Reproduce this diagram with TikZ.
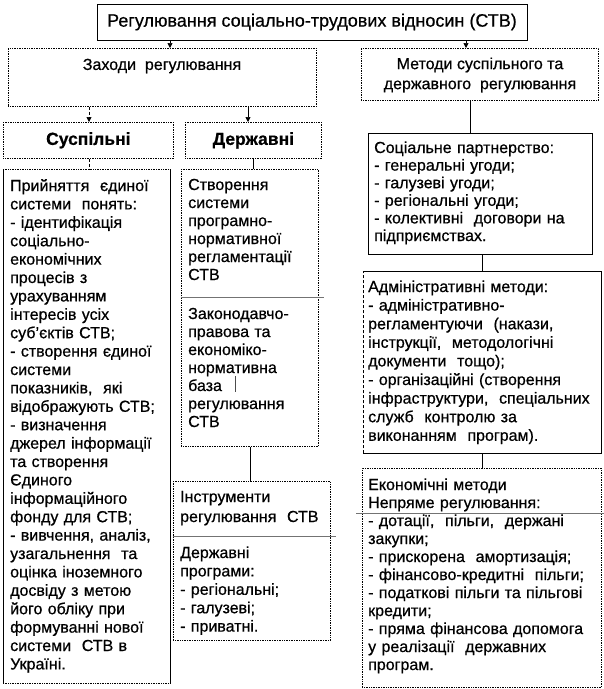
\documentclass[tikz,border=0pt]{standalone}
\usepackage{fontspec}
\setmainfont{Liberation Sans}[FakeBold=0.6]
\usetikzlibrary{arrows.meta,calc}
\begin{document}
\begin{tikzpicture}[x=1pt,y=-1pt,
  box/.style={inner sep=0pt, anchor=north west},
  solidbox/.style={box, draw=black, line width=0.7pt},
  dotbox/.style={box, draw=black, densely dotted, line width=0.7pt},
  txt/.style={inner sep=0pt, align=left, anchor=base west, text width=#1},
  txt/.default=240pt,
  conn/.style={line width=0.7pt},
  arr/.style={line width=0.7pt, -{Triangle[length=5pt,width=5pt]}},
  divider/.style={draw=black!55, line width=0.9pt},
]
\useasboundingbox[fill=white] (0,0) rectangle (604,689);

% ---------- top ----------
\node[solidbox, anchor=center, minimum width=430pt, minimum height=36pt,
      font=\fontsize{18}{20}\selectfont] (top) at (312,22)
      {Регулювання соціально-трудових відносин (СТВ)};

\node[dotbox, minimum width=308pt, minimum height=58pt] (zah) at (8,48) {};
\node[inner sep=0pt, font=\fontsize{16}{18}\selectfont] (zaht) at (162,66) {Заходи\ \ регулювання};

\node[dotbox, minimum width=237pt, minimum height=52pt] (met) at (361,48) {};
\node[inner sep=0pt, align=center, font=\fontsize{16}{20}\selectfont] (mett) at (480,75)
      {Методи суспільного та\\державного\ \ регулювання};

\node[dotbox, minimum width=170pt, minimum height=36pt] (susp) at (3,122) {};
\node[inner sep=0pt, font=\fontsize{17.5}{20}\selectfont\bfseries] (suspt) at (susp.center) {Суспільні};

\node[dotbox, minimum width=136pt, minimum height=36pt] (derzh) at (185,122) {};
\node[inner sep=0pt, font=\fontsize{17.5}{20}\selectfont\bfseries] (derzht) at (derzh.center) {Державні};

% ---------- left column ----------
\node[box, minimum width=167pt, minimum height=514pt] (left) at (3,169) {};
\draw[conn, densely dotted] (left.north west) -- (left.north east);
\draw[conn, densely dotted] (left.south west) -- (left.south east);
\draw[conn] (left.north west) -- (left.south west);
\draw[conn] (left.north east) -- (left.south east);
\node[txt, font=\fontsize{16}{18.4}\selectfont] (leftt) at (10,191)
 {Прийняття\ \ єдиної\\
  системи\ \ понять:\\
  - ідентифікація\\
  соціально-\\
  економічних\\
  процесів з\\
  урахуванням\\
  інтересів усіх\\
  суб'єктів СТВ;\\
  - створення єдиної\\
  системи\\
  показників,\ \ які\\
  відображують СТВ;\\
  - визначення\\
  джерел інформації\\
  та створення\\
  Єдиного\\
  інформаційного\\
  фонду для СТВ;\\
  - вивчення, аналіз,\\
  узагальнення\ \ та\\
  оцінка іноземного\\
  досвіду з метою\\
  його обліку при\\
  формуванні нової\\
  системи\ \ СТВ в\\
  Україні.};

% ---------- middle column ----------
\node[dotbox, minimum width=137pt, minimum height=277pt] (mid) at (181,169) {};
\node[txt, font=\fontsize{16}{18}\selectfont] (midt1) at (188,190)
 {Створення\\системи\\програмно-\\нормативної\\регламентації\\СТВ};
\draw[divider] ($(mid.north west)+(0,128)$) -- ($(mid.north east)+(5,128)$);
\node[txt, font=\fontsize{16}{18}\selectfont] (midt2) at (188,319)
 {Законодавчо-\\правова та\\економіко-\\нормативна\\база\\регулювання\\СТВ};
\draw[line width=0.6pt, black!70] (235,376) -- (235,392);

\node[dotbox, minimum width=157pt, minimum height=159pt] (inst) at (173,481) {};
\node[txt, font=\fontsize{16}{20}\selectfont] (instt1) at (180,502)
 {Інструменти\\регулювання\ \ СТВ};
\draw[divider] ($(inst.north west)+(0,55)$) -- ($(inst.north east)+(5,55)$);
\node[txt, font=\fontsize{16}{18.4}\selectfont] (instt2) at (180,558)
 {Державні\\програми:\\- регіональні;\\- галузеві;\\- приватні.};

% ---------- right column ----------
\node[solidbox, minimum width=224pt, minimum height=121pt] (soc) at (368,133) {};
\node[txt, font=\fontsize{16}{17.6}\selectfont] (soct) at (374,153)
 {Соціальне партнерство:\\
  - генеральні угоди;\\
  - галузеві угоди;\\
  - регіональні угоди;\\
  - колективні\ \ договори на\\
  підприємствах.};

\node[box, minimum width=238pt, minimum height=182pt] (adm) at (363,271) {};
\draw[conn] (adm.north west) -- (adm.north east) -- (adm.south east) -- (adm.south west);
\draw[conn, densely dashed] (adm.south west) -- (adm.north west);
\node[txt, font=\fontsize{16}{18.6}\selectfont] (admt) at (368,292)
 {Адміністративні методи:\\
  - адміністративно-\\
  регламентуючи\ \ (накази,\\
  інструкції,\ \ методологічні\\
  документи\ \ тощо);\\
  - організаційні (створення\\
  інфраструктури,\ \ спеціальних\\
  служб\ \ контролю за\\
  виконанням\ \ програм).};

\node[dotbox, minimum width=239pt, minimum height=219pt] (eco) at (362,468) {};
\node[txt, font=\fontsize{16}{18}\selectfont] (ecot1) at (368,490)
 {Економічні методи\\Непряме регулювання:};
\draw[divider] ($(eco.north west)+(-6,45)$) -- ($(eco.north east)+(3,45)$);
\node[txt, font=\fontsize{16}{18}\selectfont] (ecot2) at (368,526)
 {- дотації,\ \ пільги,\ \ держані\\
  закупки;\\
  - прискорена\ \ амортизація;\\
  - фінансово-кредитні\ \ пільги;\\
  - податкові пільги та пільгові\\
  кредити;\\
  - пряма фінансова допомога\\
  у реалізації\ \ державних\\
  програм.};

% ---------- connectors ----------
\coordinate (xa) at (170,0);
\coordinate (xb) at (466,0);
\coordinate (xc) at (89,0);
\coordinate (xd) at (248,0);
\coordinate (xe) at (253,0);
\coordinate (xf) at (250,0);
\coordinate (xg) at (470,0);
\coordinate (xh) at (482,0);

\draw[arr] (top.south -| xa) -- (zah.north -| xa);
\draw[arr] (top.south -| xb) -- (met.north -| xb);
\draw[arr, densely dashed] (zah.south -| xc) -- (susp.north -| xc);
\draw[arr] (zah.south -| xd) -- (derzh.north -| xd);
\draw[conn, densely dashed] (susp.south -| xc) -- (left.north -| xc);
\draw[conn] (derzh.south -| xe) -- (mid.north -| xe);
\draw[conn] (mid.south -| xf) -- (inst.north -| xf);
\draw[conn] (met.south -| xg) -- (soc.north -| xg);
\draw[conn] (soc.south -| xh) -- (adm.north -| xh);
\draw[conn] (adm.south -| xh) -- (eco.north -| xh);
\end{tikzpicture}
\end{document}
